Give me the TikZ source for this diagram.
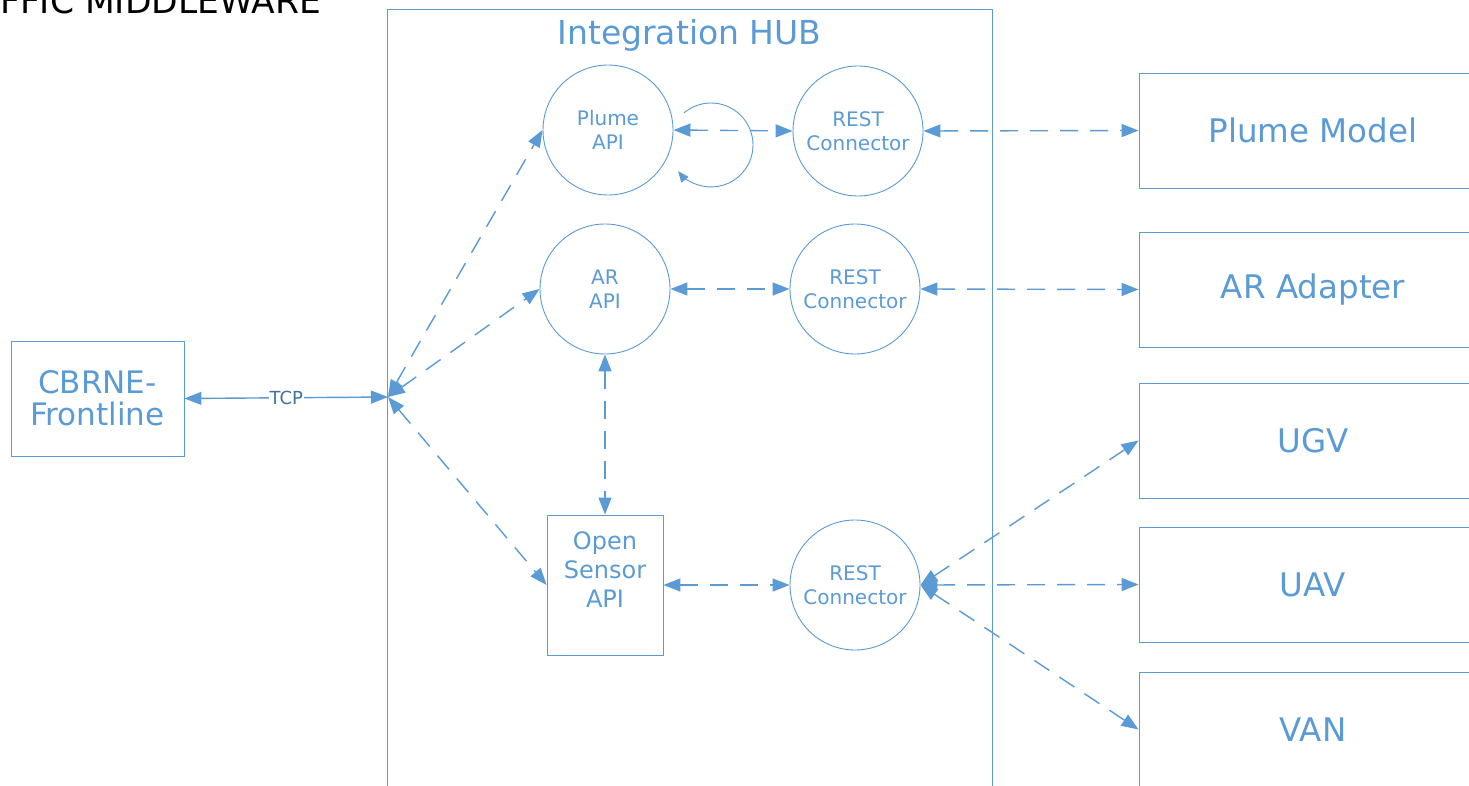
\documentclass[tikz,border=0pt]{standalone}
\usepackage{fontspec}
\setmainfont{DejaVu Sans}
\usetikzlibrary{arrows.meta}
\definecolor{vblue}{HTML}{5B9BD5}
\definecolor{tcpblue}{HTML}{41719C}
\begin{document}
\begin{tikzpicture}[x=1pt,y=-1pt,
  shp/.style={draw=vblue,line width=0.9pt,text=vblue},
  circ/.style={shp,circle,minimum size=130pt,inner sep=0pt,align=center,font=\fontsize{20}{24}\selectfont},
  bigbox/.style={shp,rectangle,minimum width=348pt,minimum height=115pt,inner sep=0pt,font=\fontsize{32.5}{36}\selectfont},
  tip/.tip={Triangle[length=17pt,width=13pt]},
  conn/.style={draw=vblue,line width=1.4pt,dash pattern=on 18pt off 12pt,tip-tip},
  solidconn/.style={draw=vblue,line width=1.4pt,tip-tip},
]
\useasboundingbox (0,0) rectangle (1469,786);
\clip (0,0) rectangle (1469,786);
\fill[white] (0,0) rectangle (1469,786);

% title (cut off)
\node (title) [anchor=base west,inner sep=0pt,font=\fontsize{34.5}{38}\selectfont,text=black] at (0,14) {FFIC MIDDLEWARE};

% hub container
\node (hub) [shp,rectangle,minimum width=605pt,minimum height=811pt,inner sep=0pt] at (689.5,414.5) {};
\node (hubtitle) [text=vblue,font=\fontsize{33}{36}\selectfont] at (689.5,35) {Integration HUB};
\coordinate (hubpt) at (388,397);

% left box
\node (cbrne) [shp,rectangle,minimum width=173pt,minimum height=115pt,inner sep=0pt,align=center,font=\fontsize{31}{32}\selectfont] at (97.5,398.5) {CBRNE-\\Frontline};

% circles
\node (plume) [circ] at (608,130) {Plume\\API};
\node (rest1) [circ] at (858,131) {REST\\Connector};
\node (ar) [circ] at (605,289) {AR\\API};
\node (rest2) [circ] at (855,289) {REST\\Connector};
\node (rest3) [circ] at (855,585) {REST\\Connector};

% open sensor
\node (os) [shp,rectangle,minimum width=116pt,minimum height=140pt,inner sep=0pt] at (605,585) {};
\node (ostxt) [text=vblue,align=center,font=\fontsize{24}{29}\selectfont] at (605,570) {Open\\Sensor\\API};

% right boxes
\node (pm) [bigbox] at (1313,130.5) {Plume Model};
\node (ara) [bigbox] at (1313,289.5) {AR Adapter};
\node (ugv) [bigbox] at (1313,440.5) {UGV};
\node (uav) [bigbox] at (1313,584.5) {UAV};
\node (van) [bigbox] at (1313,729.5) {VAN};

% connectors
\draw[solidconn] (cbrne.east) -- node (tcp) [fill=white,text=tcpblue,inner sep=1pt,font=\fontsize{18}{20}\selectfont] {TCP} (hubpt);
\draw[conn] (hubpt) -- (plume.west);
\draw[conn] (hubpt) -- (ar.west);
\draw[conn] (hubpt) -- (os.west);
\draw[conn] (plume.east) -- (rest1.west);
\draw[conn] (rest1.east) -- (pm.west);
\draw[conn] (ar.east) -- (rest2.west);
\draw[conn] (rest2.east) -- (ara.west);
\draw[conn] (ar.south) -- (os.north);
\draw[conn] (os.east) -- (rest3.west);
\draw[conn] (rest3.east) -- (ugv.west);
\draw[conn] (rest3.east) -- (uav.west);
\draw[conn] (rest3.east) -- (van.west);

% self loop on Plume API
\coordinate (loopc) at (711,145);
\draw[draw=vblue,line width=0.9pt,-{Triangle[length=11pt,width=9pt]}] ([shift={(-130:42)}]loopc) arc[start angle=-130,end angle=141.5,radius=42];
\end{tikzpicture}
\end{document}
